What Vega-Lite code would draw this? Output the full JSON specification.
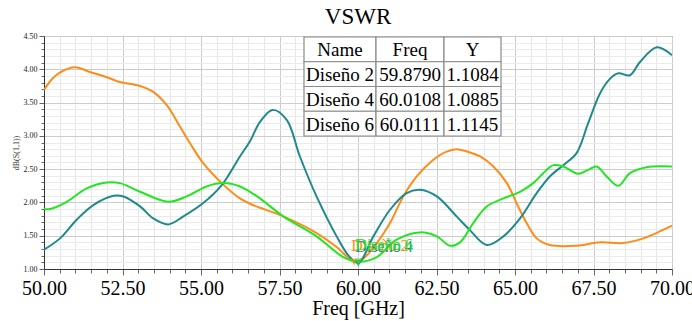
{
  "$schema": "https://vega.github.io/schema/vega-lite/v6.json",
  "width": 628,
  "height": 233,
  "autosize": "none",
  "padding": {"left": 44, "top": 36, "right": 20, "bottom": 52},
  "background": "white",
  "title": {"text": "VSWR", "font": "Liberation Serif", "fontSize": 23, "fontWeight": "normal", "color": "black", "anchor": "middle", "offset": 3, "frame": "group"},
  "config": {"view": {"stroke": "#666", "strokeWidth": 1}, "axis": {"labelOverlap": false, "labelFlush": false}},
  "datasets": {
    "curves": [
      {"design": "Diseño 2", "freq": 50.0, "vswr": 3.69},
      {"design": "Diseño 2", "freq": 50.25, "vswr": 3.85},
      {"design": "Diseño 2", "freq": 50.5, "vswr": 3.95},
      {"design": "Diseño 2", "freq": 50.99, "vswr": 4.03},
      {"design": "Diseño 2", "freq": 51.46, "vswr": 3.96},
      {"design": "Diseño 2", "freq": 52.0, "vswr": 3.88},
      {"design": "Diseño 2", "freq": 52.42, "vswr": 3.81},
      {"design": "Diseño 2", "freq": 53.06, "vswr": 3.75},
      {"design": "Diseño 2", "freq": 53.48, "vswr": 3.66},
      {"design": "Diseño 2", "freq": 53.91, "vswr": 3.46},
      {"design": "Diseño 2", "freq": 54.33, "vswr": 3.14},
      {"design": "Diseño 2", "freq": 54.65, "vswr": 2.89},
      {"design": "Diseño 2", "freq": 55.07, "vswr": 2.59},
      {"design": "Diseño 2", "freq": 55.66, "vswr": 2.29},
      {"design": "Diseño 2", "freq": 56.24, "vswr": 2.06},
      {"design": "Diseño 2", "freq": 56.56, "vswr": 1.98},
      {"design": "Diseño 2", "freq": 56.88, "vswr": 1.92},
      {"design": "Diseño 2", "freq": 57.62, "vswr": 1.79},
      {"design": "Diseño 2", "freq": 58.68, "vswr": 1.54},
      {"design": "Diseño 2", "freq": 59.32, "vswr": 1.33},
      {"design": "Diseño 2", "freq": 59.88, "vswr": 1.11},
      {"design": "Diseño 2", "freq": 60.2, "vswr": 1.17},
      {"design": "Diseño 2", "freq": 60.6, "vswr": 1.39},
      {"design": "Diseño 2", "freq": 61.02, "vswr": 1.69},
      {"design": "Diseño 2", "freq": 61.44, "vswr": 2.09},
      {"design": "Diseño 2", "freq": 61.87, "vswr": 2.39},
      {"design": "Diseño 2", "freq": 62.4, "vswr": 2.64},
      {"design": "Diseño 2", "freq": 62.8, "vswr": 2.76},
      {"design": "Diseño 2", "freq": 63.14, "vswr": 2.8},
      {"design": "Diseño 2", "freq": 63.57, "vswr": 2.75},
      {"design": "Diseño 2", "freq": 63.89, "vswr": 2.69},
      {"design": "Diseño 2", "freq": 64.31, "vswr": 2.54},
      {"design": "Diseño 2", "freq": 64.74, "vswr": 2.29},
      {"design": "Diseño 2", "freq": 65.05, "vswr": 1.99},
      {"design": "Diseño 2", "freq": 65.37, "vswr": 1.69},
      {"design": "Diseño 2", "freq": 65.69, "vswr": 1.46},
      {"design": "Diseño 2", "freq": 66.11, "vswr": 1.36},
      {"design": "Diseño 2", "freq": 66.96, "vswr": 1.35},
      {"design": "Diseño 2", "freq": 67.71, "vswr": 1.4},
      {"design": "Diseño 2", "freq": 68.45, "vswr": 1.39},
      {"design": "Diseño 2", "freq": 69.09, "vswr": 1.46},
      {"design": "Diseño 2", "freq": 69.5, "vswr": 1.54},
      {"design": "Diseño 2", "freq": 70.0, "vswr": 1.65},
      {"design": "Diseño 4", "freq": 50.0, "vswr": 1.29},
      {"design": "Diseño 4", "freq": 50.51, "vswr": 1.46},
      {"design": "Diseño 4", "freq": 51.04, "vswr": 1.74},
      {"design": "Diseño 4", "freq": 51.57, "vswr": 1.96},
      {"design": "Diseño 4", "freq": 52.21, "vswr": 2.1},
      {"design": "Diseño 4", "freq": 52.53, "vswr": 2.09},
      {"design": "Diseño 4", "freq": 53.06, "vswr": 1.94},
      {"design": "Diseño 4", "freq": 53.48, "vswr": 1.76},
      {"design": "Diseño 4", "freq": 53.96, "vswr": 1.67},
      {"design": "Diseño 4", "freq": 54.44, "vswr": 1.79},
      {"design": "Diseño 4", "freq": 55.07, "vswr": 1.99},
      {"design": "Diseño 4", "freq": 55.66, "vswr": 2.26},
      {"design": "Diseño 4", "freq": 56.24, "vswr": 2.69},
      {"design": "Diseño 4", "freq": 56.56, "vswr": 2.92},
      {"design": "Diseño 4", "freq": 56.88, "vswr": 3.21},
      {"design": "Diseño 4", "freq": 57.28, "vswr": 3.39},
      {"design": "Diseño 4", "freq": 57.73, "vswr": 3.24},
      {"design": "Diseño 4", "freq": 58.15, "vswr": 2.69},
      {"design": "Diseño 4", "freq": 58.68, "vswr": 2.09},
      {"design": "Diseño 4", "freq": 59.32, "vswr": 1.49},
      {"design": "Diseño 4", "freq": 59.7, "vswr": 1.2},
      {"design": "Diseño 4", "freq": 60.01, "vswr": 1.09},
      {"design": "Diseño 4", "freq": 60.49, "vswr": 1.49},
      {"design": "Diseño 4", "freq": 61.02, "vswr": 1.89},
      {"design": "Diseño 4", "freq": 61.55, "vswr": 2.14},
      {"design": "Diseño 4", "freq": 61.97, "vswr": 2.19},
      {"design": "Diseño 4", "freq": 62.51, "vswr": 2.09},
      {"design": "Diseño 4", "freq": 63.14, "vswr": 1.79},
      {"design": "Diseño 4", "freq": 63.57, "vswr": 1.58},
      {"design": "Diseño 4", "freq": 64.1, "vswr": 1.36},
      {"design": "Diseño 4", "freq": 64.63, "vswr": 1.49},
      {"design": "Diseño 4", "freq": 65.16, "vswr": 1.76},
      {"design": "Diseño 4", "freq": 65.69, "vswr": 2.14},
      {"design": "Diseño 4", "freq": 66.11, "vswr": 2.39},
      {"design": "Diseño 4", "freq": 66.54, "vswr": 2.56},
      {"design": "Diseño 4", "freq": 66.96, "vswr": 2.74},
      {"design": "Diseño 4", "freq": 67.33, "vswr": 3.19},
      {"design": "Diseño 4", "freq": 67.71, "vswr": 3.64},
      {"design": "Diseño 4", "freq": 68.03, "vswr": 3.86},
      {"design": "Diseño 4", "freq": 68.29, "vswr": 3.94},
      {"design": "Diseño 4", "freq": 68.66, "vswr": 3.91},
      {"design": "Diseño 4", "freq": 68.98, "vswr": 4.11},
      {"design": "Diseño 4", "freq": 69.52, "vswr": 4.33},
      {"design": "Diseño 4", "freq": 70.0, "vswr": 4.21},
      {"design": "Diseño 6", "freq": 50.0, "vswr": 1.9},
      {"design": "Diseño 6", "freq": 50.19, "vswr": 1.9},
      {"design": "Diseño 6", "freq": 50.72, "vswr": 2.01},
      {"design": "Diseño 6", "freq": 51.36, "vswr": 2.21},
      {"design": "Diseño 6", "freq": 52.0, "vswr": 2.3},
      {"design": "Diseño 6", "freq": 52.42, "vswr": 2.29},
      {"design": "Diseño 6", "freq": 53.06, "vswr": 2.16},
      {"design": "Diseño 6", "freq": 53.96, "vswr": 2.01},
      {"design": "Diseño 6", "freq": 54.54, "vswr": 2.09},
      {"design": "Diseño 6", "freq": 55.18, "vswr": 2.24},
      {"design": "Diseño 6", "freq": 55.71, "vswr": 2.29},
      {"design": "Diseño 6", "freq": 56.24, "vswr": 2.24},
      {"design": "Diseño 6", "freq": 56.56, "vswr": 2.16},
      {"design": "Diseño 6", "freq": 56.88, "vswr": 2.06},
      {"design": "Diseño 6", "freq": 57.62, "vswr": 1.79},
      {"design": "Diseño 6", "freq": 58.68, "vswr": 1.49},
      {"design": "Diseño 6", "freq": 59.53, "vswr": 1.18},
      {"design": "Diseño 6", "freq": 60.01, "vswr": 1.11},
      {"design": "Diseño 6", "freq": 60.6, "vswr": 1.18},
      {"design": "Diseño 6", "freq": 61.23, "vswr": 1.44},
      {"design": "Diseño 6", "freq": 61.97, "vswr": 1.55},
      {"design": "Diseño 6", "freq": 62.51, "vswr": 1.49},
      {"design": "Diseño 6", "freq": 62.93, "vswr": 1.35},
      {"design": "Diseño 6", "freq": 63.25, "vswr": 1.4},
      {"design": "Diseño 6", "freq": 63.67, "vswr": 1.69},
      {"design": "Diseño 6", "freq": 64.1, "vswr": 1.94},
      {"design": "Diseño 6", "freq": 64.63, "vswr": 2.06},
      {"design": "Diseño 6", "freq": 65.16, "vswr": 2.16},
      {"design": "Diseño 6", "freq": 65.58, "vswr": 2.29},
      {"design": "Diseño 6", "freq": 65.9, "vswr": 2.44},
      {"design": "Diseño 6", "freq": 66.22, "vswr": 2.56},
      {"design": "Diseño 6", "freq": 66.54, "vswr": 2.54},
      {"design": "Diseño 6", "freq": 67.01, "vswr": 2.43},
      {"design": "Diseño 6", "freq": 67.33, "vswr": 2.49},
      {"design": "Diseño 6", "freq": 67.6, "vswr": 2.54},
      {"design": "Diseño 6", "freq": 67.92, "vswr": 2.39},
      {"design": "Diseño 6", "freq": 68.29, "vswr": 2.25},
      {"design": "Diseño 6", "freq": 68.66, "vswr": 2.44},
      {"design": "Diseño 6", "freq": 69.19, "vswr": 2.53},
      {"design": "Diseño 6", "freq": 70.0, "vswr": 2.54}
    ],
    "markers": [
      {"design": "Diseño 2", "freq": 59.879, "vswr": 1.1084},
      {"design": "Diseño 4", "freq": 60.0108, "vswr": 1.0885},
      {"design": "Diseño 6", "freq": 60.0111, "vswr": 1.1145}
    ],
    "table": [
      {"r": 0, "c": 0, "t": "Name"},
      {"r": 0, "c": 1, "t": "Freq"},
      {"r": 0, "c": 2, "t": "Y"},
      {"r": 1, "c": 0, "t": "Diseño 2"},
      {"r": 1, "c": 1, "t": "59.8790"},
      {"r": 1, "c": 2, "t": "1.1084"},
      {"r": 2, "c": 0, "t": "Diseño 4"},
      {"r": 2, "c": 1, "t": "60.0108"},
      {"r": 2, "c": 2, "t": "1.0885"},
      {"r": 3, "c": 0, "t": "Diseño 6"},
      {"r": 3, "c": 1, "t": "60.0111"},
      {"r": 3, "c": 2, "t": "1.1145"}
    ]
  },
  "layer": [
    {
      "encoding": {
        "x": {
          "field": "freq", "type": "quantitative",
          "scale": {"domain": [50, 70], "nice": false, "zero": false},
          "axis": {
            "values": [50, 50.5, 51, 51.5, 52, 52.5, 53, 53.5, 54, 54.5, 55, 55.5, 56, 56.5, 57, 57.5, 58, 58.5, 59, 59.5, 60, 60.5, 61, 61.5, 62, 62.5, 63, 63.5, 64, 64.5, 65, 65.5, 66, 66.5, 67, 67.5, 68, 68.5, 69, 69.5, 70],
            "labelExpr": "datum.value % 2.5 === 0 ? format(datum.value, '.2f') : ''",
            "labelFont": "Liberation Serif", "labelFontSize": 20, "labelColor": "black",
            "labelPadding": 3, "labelOverlap": false, "labelFlush": false,
            "tickSize": {"condition": {"test": "datum.value % 2.5 === 0", "value": 6}, "value": 4},
            "tickColor": "#666",
            "grid": true,
            "gridColor": {"condition": {"test": "datum.value % 2.5 === 0", "value": "#cccccc"}, "value": "#e6e6e6"},
            "domainColor": "#333",
            "title": "Freq [GHz]", "titleFont": "Liberation Serif", "titleFontSize": 20,
            "titleFontWeight": "normal", "titleColor": "black", "titlePadding": 0
          }
        },
        "y": {
          "field": "vswr", "type": "quantitative",
          "scale": {"domain": [1, 4.5], "nice": false, "zero": false},
          "axis": {
            "values": [1, 1.1, 1.2, 1.3, 1.4, 1.5, 1.6, 1.7, 1.8, 1.9, 2, 2.1, 2.2, 2.3, 2.4, 2.5, 2.6, 2.7, 2.8, 2.9, 3, 3.1, 3.2, 3.3, 3.4, 3.5, 3.6, 3.7, 3.8, 3.9, 4, 4.1, 4.2, 4.3, 4.4, 4.5],
            "labelExpr": "abs(datum.value * 2 - round(datum.value * 2)) < 0.01 ? format(datum.value, '.2f') : ''",
            "labelFont": "Liberation Serif", "labelFontSize": 8, "labelColor": "#222",
            "labelPadding": 2, "labelOverlap": false,
            "tickSize": {"condition": {"test": "abs(datum.value * 2 - round(datum.value * 2)) < 0.01", "value": 5}, "value": 3},
            "tickColor": "#666",
            "grid": true,
            "gridColor": {"condition": {"test": "abs(datum.value * 2 - round(datum.value * 2)) < 0.01", "value": "#cccccc"}, "value": "#ebebeb"},
            "domainColor": "#333",
            "title": "dB(S(1,1))", "titleFont": "Liberation Serif", "titleFontSize": 8,
            "titleFontWeight": "normal", "titleColor": "#333", "titlePadding": 3
          }
        },
        "color": {
          "field": "design", "type": "nominal",
          "scale": {"domain": ["Diseño 2", "Diseño 4", "Diseño 6"], "range": ["#FF8C1A", "#1F8A8A", "#22E622"]},
          "legend": null
        }
      },
      "layer": [
        {
          "data": {"name": "curves"},
          "mark": {"type": "line", "strokeWidth": 2, "interpolate": "catmull-rom", "clip": true},
          "encoding": {"order": {"field": "freq", "type": "quantitative"}}
        },
        {
          "data": {"name": "markers"},
          "mark": {"type": "point", "shape": "triangle-down", "size": 30, "filled": false, "strokeWidth": 1.2}
        },
        {
          "data": {"name": "markers"},
          "mark": {"type": "text", "font": "Liberation Serif", "fontSize": 16, "align": "left", "baseline": "middle", "dx": -3, "dy": -16},
          "encoding": {
            "text": {"field": "design"},
            "order": {"field": "design", "sort": "ascending"}
          }
        },
        {
          "data": {"values": [{"label": "HFSSDesign1"}]},
          "mark": {"type": "text", "font": "Liberation Sans", "fontSize": 9, "align": "center", "baseline": "middle"},
          "encoding": {
            "x": {"datum": 68.18, "type": "quantitative"},
            "y": {"datum": 4.785, "type": "quantitative"},
            "color": {"value": "#444"},
            "text": {"field": "label"}
          }
        }
      ]
    },
    {
      "data": {"name": "table"},
      "transform": [
        {"calculate": "datum.c + 1", "as": "c2"},
        {"calculate": "datum.r + 1", "as": "r2"},
        {"calculate": "datum.c + 0.5", "as": "cm"},
        {"calculate": "datum.r + 0.5", "as": "rm"}
      ],
      "layer": [
        {
          "mark": {"type": "rect", "fill": "#777", "opacity": 0.6, "xOffset": 3, "yOffset": 3},
          "encoding": {
            "x": {"field": "c", "type": "quantitative", "scale": {"domain": [0, 1, 2, 3], "range": [260, 332, 400, 457]}, "axis": null},
            "x2": {"field": "c2"},
            "y": {"field": "r", "type": "quantitative", "scale": {"domain": [0, 4], "range": [1, 100]}, "axis": null},
            "y2": {"field": "r2"}
          }
        },
        {
          "mark": {"type": "rect", "fill": "white", "stroke": "#8a8a8a", "strokeWidth": 1.2},
          "encoding": {
            "x": {"field": "c", "type": "quantitative"},
            "x2": {"field": "c2"},
            "y": {"field": "r", "type": "quantitative"},
            "y2": {"field": "r2"}
          }
        },
        {
          "mark": {"type": "text", "font": "Liberation Serif", "fontSize": 19, "color": "black", "align": "center", "baseline": "middle", "dy": 1},
          "encoding": {
            "x": {"field": "cm", "type": "quantitative"},
            "y": {"field": "rm", "type": "quantitative"},
            "text": {"field": "t"}
          }
        }
      ]
    }
  ],
  "resolve": {"scale": {"x": "independent", "y": "independent", "color": "independent"}, "axis": {"x": "independent", "y": "independent"}}
}
